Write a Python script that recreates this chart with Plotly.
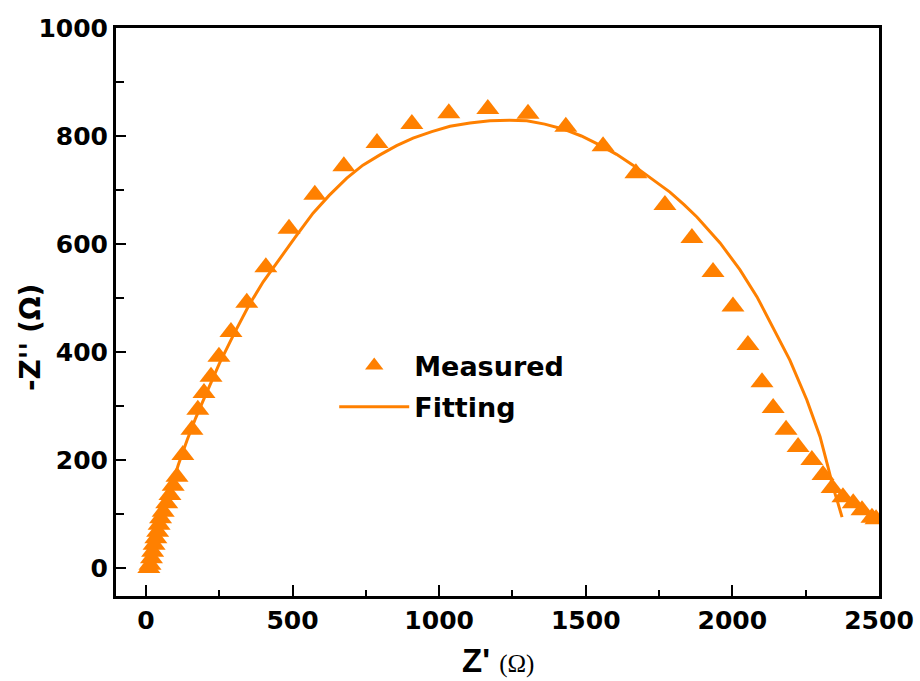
import plotly.graph_objects as go

# Measured impedance spectrum (Nyquist plot)
meas_x = [10, 14, 19, 23, 28, 34, 40, 45, 50, 59, 71, 82, 93, 106, 126, 157, 177,
          198, 222, 249, 290, 344, 409, 488, 576, 675, 788, 907, 1033, 1166, 1303,
          1432, 1559, 1671, 1770, 1862, 1934, 2002, 2053, 2101, 2139, 2183, 2224,
          2271, 2309, 2340, 2377, 2412, 2442, 2476, 2490]
meas_y = [0, 6, 18, 30, 43, 55, 67, 80, 92, 104, 120, 135, 152, 169, 209, 256, 293,
          324, 354, 391, 437, 491, 557, 628, 691, 744, 787, 822, 842, 850, 841,
          817, 781, 731, 672, 611, 548, 484, 413, 344, 296, 256, 224,
          200, 172, 148, 131, 120, 107, 93, 90]

# Equivalent-circuit fit
fit_x = [5, 20, 40, 60, 85, 110, 140, 170, 200, 250, 300, 350, 400, 457, 510, 570,
         625, 685, 740, 798, 855, 911, 975, 1037, 1105, 1173, 1240, 1299, 1360, 1422,
         1485, 1548, 1605, 1661, 1720, 1787, 1835, 1879, 1958, 2026, 2084, 2139,
         2196, 2254, 2299, 2326, 2343, 2360, 2374]
fit_y = [0, 30, 68, 103, 148, 190, 236, 278, 316, 378, 433, 485, 530, 574, 613, 657,
         690, 722, 746, 765, 782, 796, 808, 818, 824, 828, 829, 828, 822, 813,
         800, 783, 766, 746, 722, 696, 673, 650, 602, 552, 502, 446,
         385, 311, 243, 187, 150, 120, 94]

ORANGE = "#FF8000"
SANS = "DejaVu Sans"

fig = go.Figure()
fig.add_trace(go.Scatter(
    x=meas_x, y=meas_y, mode="markers", name="<b>Measured</b>", legendgroup="m",
    marker=dict(symbol="triangle-up", size=20, color=ORANGE, line=dict(width=0)),
))
fig.add_trace(go.Scatter(
    x=fit_x, y=fit_y, mode="lines", name="<b>Fitting</b>", legendgroup="f",
    line=dict(color=ORANGE, width=3),
))

axis_common = dict(
    showline=True, linecolor="black", linewidth=3, mirror=True,
    ticks="inside", tickcolor="black", tickwidth=2,
    showgrid=False, zeroline=False, automargin=False,
    tickfont=dict(family=SANS, size=25, color="black", weight="bold"),
)

fig.update_xaxes(
    range=[-102, 2500], tickvals=[0, 500, 1000, 1500, 2000, 2500], ticklen=11,
    minor=dict(dtick=250, tick0=0, ticks="inside", ticklen=6, tickwidth=2, tickcolor="black"),
    **axis_common,
)
fig.update_yaxes(
    range=[-52, 1000], tickvals=[0, 200, 400, 600, 800, 1000], ticklen=10,
    minor=dict(dtick=100, tick0=0, ticks="inside", ticklen=8, tickwidth=2, tickcolor="black"),
    **axis_common,
)

# Axis titles
fig.add_annotation(
    xref="paper", yref="paper", x=0.5, y=-0.113, xanchor="center", yanchor="middle",
    showarrow=False,
    text="<b>Z'</b> <span style='font-family:Liberation Serif;font-size:25px'>(Ω)</span>",
    font=dict(family="Liberation Sans", size=33, color="black"),
)
fig.add_annotation(
    xref="paper", yref="paper", x=-0.112, y=0.455, xanchor="center", yanchor="middle",
    showarrow=False, textangle=-90,
    text="<b>-Z''</b> <b>(Ω)</b>",
    font=dict(family=SANS, size=28, color="black"),
)

fig.update_layout(
    width=920, height=681,
    margin=dict(l=116, r=41, t=28, b=85, autoexpand=False),
    paper_bgcolor="white", plot_bgcolor="white",
    showlegend=True,
    legend=dict(
        x=0.286, y=0.448, xanchor="left", yanchor="top",
        bgcolor="rgba(0,0,0,0)", borderwidth=0,
        font=dict(family=SANS, size=27, color="black"),
        traceorder="grouped", tracegroupgap=3, itemwidth=70,
    ),
)

fig.write_html("out.html")
